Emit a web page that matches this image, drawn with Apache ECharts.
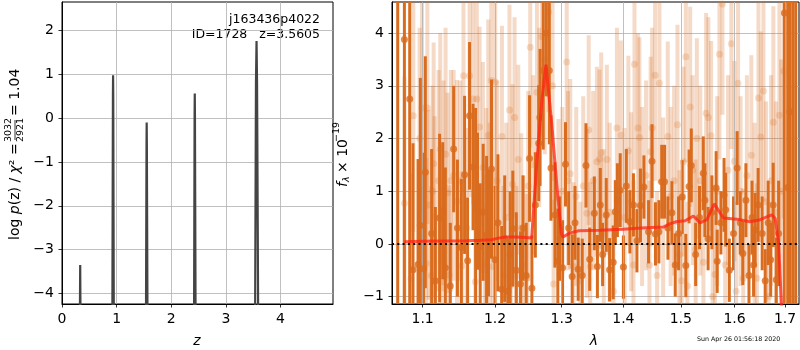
<!DOCTYPE html>
<html>
<head>
<meta charset="utf-8">
<title>p(z) and spectrum</title>
<script src="https://cdn.jsdelivr.net/npm/echarts@6.0.0/dist/echarts.min.js"></script>
<style>
  html, body { margin: 0; padding: 0; background: #fff; }
  #main { width: 800px; height: 350px; }
</style>
</head>
<body>
<div id="main"></div>
<script>
// left panel: log p(z)
var zGrid = [0.0, 0.325, 0.333, 0.341, 0.921, 0.932, 0.935, 0.938, 0.949,
             1.536, 1.547, 1.550, 1.553, 1.566, 2.416, 2.427, 2.430, 2.433, 2.446,
             3.533, 3.550, 3.5605, 3.570, 3.592, 4.96];
var logPz = [-5, -5, -3.35, -5, -5, 0.5, 0.98, 0.5, -5,
             -5, -0.6, -0.1, -0.6, -5, -5, 0.1, 0.56, 0.1, -5,
             -5, 0.8, 1.76, 0.8, -5, -5];

// right panel: spectrum, first orientation (dark)
var lamDark = [1.0676, 1.0762, 1.0831, 1.0874, 1.0940, 1.0970, 1.1013, 1.1036, 1.1120, 1.1170,
               1.1227, 1.1269, 1.1305, 1.1372, 1.1418, 1.1470, 1.1524, 1.1569, 1.1611, 1.1638,
               1.1687, 1.1723, 1.1750, 1.1788, 1.1830, 1.1879, 1.1907, 1.1949, 1.2000, 1.2042,
               1.2096, 1.2140, 1.2186, 1.2220, 1.2259, 1.2310, 1.2372, 1.2410, 1.2458, 1.2508,
               1.2543, 1.2595, 1.2646, 1.2667, 1.2715, 1.2762, 1.2808, 1.2834, 1.2895, 1.2940,
               1.2975, 1.3014, 1.3060, 1.3110, 1.3165, 1.3210, 1.3260, 1.3325, 1.3385, 1.3445,
               1.3520, 1.3570, 1.3617, 1.3655, 1.3715, 1.3770, 1.3830, 1.3865, 1.3900, 1.3947,
               1.4000, 1.4050, 1.4110, 1.4170, 1.4230, 1.4290, 1.4350, 1.4430, 1.4490, 1.4550,
               1.4610, 1.4660, 1.4710, 1.4770, 1.4840, 1.4900, 1.4960, 1.5025, 1.5090, 1.5150,
               1.5190, 1.5270, 1.5340, 1.5410, 1.5440, 1.5500, 1.5570, 1.5650, 1.5670, 1.5740,
               1.5800, 1.5830, 1.5900, 1.5980, 1.6050, 1.6110, 1.6160, 1.6220, 1.6280, 1.6340,
               1.6370, 1.6400, 1.6460, 1.6540, 1.6600, 1.6660, 1.6710, 1.6760, 1.6822, 1.6870,
               1.6988, 1.7055, 1.7100, 1.7160, 1.7220];
var fluxDark = [-1.5, 3.88, 2.75, -0.49, -0.39, 0.35, -0.47, 1.36, 0.20, -0.70,
                0.49, 0.63, -0.45, -0.80, 1.80, 0.30, -0.07, 1.31, -0.32, 2.43,
                1.46, 0.68, 0.81, -0.05, 0.60, 0.17, 0.21, 1.42, -0.30, 0.40,
                -0.86, 0.10, -0.90, -0.20, 0.29, -0.50, -0.76, 0.30, -0.60, 1.62,
                -0.84, 0.74, 1.91, 2.40, 3.29, 4.00, 3.29, 1.44, 0.55, -0.33,
                0.10, -0.45, 1.51, 0.30, -0.62, 0.40, -0.48, -0.60, 1.49, -0.29,
                0.58, -0.43, 0.74, -0.20, 0.55, -0.49, -0.35, 0.61, 0.83, 1.02,
                -0.44, 1.10, 0.42, 0.74, 0.06, 0.73, 1.08, 0.23, 1.57, 0.19,
                0.23, 1.18, 1.18, 0.30, 0.59, -0.40, 0.20, 0.89, -0.41, 1.09,
                1.49, -0.20, 0.50, 1.34, 0.83, 0.10, 0.60, 1.06, -0.33, 0.40,
                0.93, 0.65, -0.50, 0.20, 1.44, 0.40, -0.18, 0.83, -0.60, 0.50,
                -0.40, 0.27, 0.74, 0.20, -0.70, 0.40, -0.30, 0.74, -0.68, 0.20,
                4.38, 1.07, 2.51, -1.5, -1.5];
var errDark = [7, 6, 5, 2.4, 2.0, 2.8, 2.2, 2.2, 1.6, 1.4,
               1.6, 1.3, 1.9, 1.2, 1.2, 1.3, 1.3, 1.5, 1.2, 1.4,
               1.2, 1.9, 1.3, 1.2, 1.3, 1.5, 1.2, 1.7, 1.4, 1.3,
               1.2, 1.2, 1.0, 1.2, 1.1, 1.1, 1.0, 1.0, 1.0, 1.2,
               1.0, 1.0, 1.1, 1.3, 1.5, 1.2, 1.4, 1.0, 1.0, 1.0,
               0.8, 0.9, 0.8, 0.7, 0.8, 0.7, 0.6, 0.7, 0.8, 0.6,
               0.7, 0.6, 0.7, 0.6, 0.7, 0.6, 0.7, 0.6, 0.7, 0.7,
               0.6, 0.7, 0.6, 0.6, 0.6, 0.7, 0.6, 0.6, 0.7, 0.6,
               0.6, 0.7, 0.7, 0.6, 0.6, 0.6, 0.7, 0.7, 0.6, 0.7,
               0.7, 0.6, 0.6, 0.7, 0.7, 0.6, 0.7, 0.7, 0.6, 0.6,
               0.7, 0.7, 0.6, 0.7, 0.7, 0.6, 0.6, 0.7, 0.6, 0.7,
               0.6, 0.7, 0.7, 0.7, 0.6, 0.8, 0.7, 0.8, 0.8, 1.0,
               6, 6, 6, 7, 7];

// second orientation (light)
var lamLight = [1.0763, 1.0848, 1.0878, 1.0961, 1.0975, 1.0992, 1.1049, 1.1063, 1.1080, 1.1116,
                1.1133, 1.1147, 1.1160, 1.1213, 1.1236, 1.1256, 1.1280, 1.1308, 1.1335, 1.1357,
                1.1380, 1.1418, 1.1464, 1.1509, 1.1529, 1.1554, 1.1597, 1.1639, 1.1687, 1.1719,
                1.1740, 1.1779, 1.1826, 1.1853, 1.1874, 1.1903, 1.1924, 1.1946, 1.1970, 1.2003,
                1.2031, 1.2100, 1.2123, 1.2162, 1.2210, 1.2228, 1.2255, 1.2285, 1.2310, 1.2340,
                1.2384, 1.2418, 1.2468, 1.2488, 1.2518, 1.2562, 1.2620, 1.2654, 1.2695, 1.2739,
                1.2797, 1.2858, 1.2875, 1.2950, 1.3009, 1.3079, 1.3099, 1.3134, 1.3186, 1.3229,
                1.3293, 1.3341, 1.3400, 1.3429, 1.3453, 1.3501, 1.3562, 1.3604, 1.3632, 1.3673,
                1.3725, 1.3772, 1.3835, 1.3892, 1.3958, 1.4020, 1.4084, 1.4132, 1.4171, 1.4188,
                1.4247, 1.4273, 1.4318, 1.4387, 1.4445, 1.4466, 1.4492, 1.4544, 1.4579, 1.4620,
                1.4685, 1.4767, 1.4818, 1.4880, 1.4940, 1.4975, 1.5015, 1.5049, 1.5091, 1.5120,
                1.5169, 1.5215, 1.5270, 1.5292, 1.5355, 1.5413, 1.5463, 1.5505, 1.5555, 1.5585,
                1.5629, 1.5670, 1.5712, 1.5769, 1.5821, 1.5876, 1.5939, 1.5997, 1.6030, 1.6068,
                1.6116, 1.6168, 1.6239, 1.6326, 1.6390, 1.6436, 1.6466, 1.6512, 1.6565, 1.6618,
                1.6672, 1.6718, 1.6764, 1.6818, 1.6885, 1.6920, 1.6975];
var fluxLight = [0.77, -0.66, 2.43, 2.00, -0.72, 2.58, -0.37, 2.58, 0.74, -0.60,
                 1.00, 1.52, 0.52, 1.20, 1.80, -0.72, 1.10, 1.70, 0.97, -0.59,
                 1.20, 1.30, 0.81, 1.20, -0.42, 3.19, 0.30, 3.19, 2.75, -0.72,
                 2.75, 2.22, 1.45, -0.39, 0.68, 2.06, 0.50, 3.10, -0.43, 3.07,
                 1.20, 2.04, -0.60, 0.50, 2.54, -0.79, 1.13, 2.40, -0.60, 1.60,
                 0.30, -0.40, -0.65, 1.10, 3.73, 1.50, 2.88, 2.40, 3.93, 3.50,
                 4.40, 3.00, -0.76, 0.87, 1.00, 3.45, 1.20, 1.33, -0.43, 0.90,
                 -0.70, 1.10, 0.58, 2.16, -0.43, 1.20, 1.56, 1.61, 1.73, 0.20,
                 1.60, 0.60, -0.90, 2.20, 2.06, 0.50, 1.77, 0.80, -0.40, 3.41,
                 2.20, 2.02, 0.90, 1.30, -0.40, 1.75, 2.20, 3.20, -0.60, 3.05,
                 0.70, 2.04, 0.90, 1.20, 2.26, -0.20, -0.70, 1.56, 3.55, -0.80,
                 2.60, 1.40, -0.10, 2.00, 1.20, -0.35, 2.48, 2.40, 2.05, -1.00,
                 -0.58, 1.00, 3.60, 4.55, -0.40, 1.40, 3.80, 1.57, -0.90, 3.05,
                 1.00, -0.65, 1.30, 1.68, 0.50, -0.65, 2.77, 2.03, 2.90, 0.80,
                 -1.00, 1.20, 2.31, 0.60, 2.44, 1.00, 3.28];
var errLight = [2.4, 2.0, 2.2, 2.1, 1.8, 2.0, 2.0, 2.2, 1.8, 1.7,
                2.0, 2.3, 1.9, 2.1, 2.2, 1.8, 2.0, 2.4, 1.9, 1.7,
                2.1, 2.0, 2.3, 1.9, 1.8, 2.2, 1.9, 2.3, 2.0, 1.8,
                2.1, 1.9, 2.0, 1.7, 1.9, 2.2, 1.8, 2.1, 1.8, 2.0,
                1.9, 2.1, 1.7, 1.8, 2.0, 1.6, 1.9, 1.9, 1.7, 1.8,
                1.8, 1.7, 1.6, 1.8, 1.9, 1.7, 1.8, 1.7, 1.9, 1.8,
                1.9, 1.8, 1.6, 1.5, 1.6, 1.9, 1.7, 1.8, 1.6, 1.7,
                1.5, 1.7, 1.6, 1.8, 1.6, 1.7, 1.8, 1.7, 1.9, 1.6,
                1.8, 1.7, 1.5, 1.9, 1.8, 1.7, 1.8, 1.7, 1.6, 2.0,
                1.8, 1.9, 1.7, 1.8, 1.6, 1.8, 1.9, 2.0, 1.6, 1.9,
                1.7, 1.8, 1.7, 1.8, 1.9, 1.6, 1.6, 1.8, 2.0, 1.6,
                1.9, 1.8, 1.7, 1.9, 1.8, 1.7, 1.9, 1.9, 1.8, 1.6,
                1.7, 1.8, 2.0, 2.1, 1.7, 1.8, 2.0, 1.9, 1.7, 2.0,
                1.8, 1.7, 1.9, 1.9, 1.8, 1.8, 2.0, 2.0, 2.1, 1.9,
                1.8, 2.0, 2.2, 2.1, 2.4, 2.5, 2.8];

// best-fit model
var lamModel = [1.076, 1.100, 1.130, 1.160, 1.180, 1.195, 1.205, 1.215, 1.230, 1.245,
                1.254, 1.262, 1.2695, 1.2757, 1.2849, 1.2926, 1.2994, 1.302, 1.3134, 1.327,
                1.360, 1.400, 1.430, 1.469, 1.480, 1.4917, 1.5078, 1.5227, 1.535, 1.5477,
                1.5615, 1.579, 1.6044, 1.630, 1.650, 1.673, 1.680, 1.687, 1.690, 1.694];
var fluxModel = [0.04, 0.05, 0.055, 0.06, 0.07, 0.08, 0.11, 0.13, 0.13, 0.12,
                 0.11, 1.59, 2.73, 3.4, 2.23, 1.09, 0.2, 0.13, 0.21, 0.25,
                 0.26, 0.28, 0.30, 0.32, 0.38, 0.42, 0.44, 0.53, 0.40, 0.46,
                 0.76, 0.49, 0.47, 0.42, 0.46, 0.55, 0.49, 0.01, -0.62, -1.4];

var lamTicks = [1.1, 1.2, 1.3, 1.4, 1.5, 1.6, 1.7];
var zTicks = [0, 1, 2, 3, 4];
var pTicks = [-4, -3, -2, -1, 0, 1, 2];
var fTicks = [-1, 0, 1, 2, 3, 4];

var orange = '#d96c1e';
var fontFam = 'DejaVu Sans';

function minus(v) {
    return String(v).replace('-', '\u2212');
}

function zip3(a, b, c) {
    return a.map(function (v, i) { return [v, b[i], c[i]]; });
}

function errBars(width, color) {
    return function (params, api) {
        var lam = api.value(0), f = api.value(1), e = api.value(2);
        var top = api.coord([lam, f + e]);
        var bot = api.coord([lam, f - e]);
        var cs = params.coordSys;
        var r = echarts.graphic.clipRectByRect(
            {x: top[0] - width / 2, y: top[1], width: width, height: bot[1] - top[1]},
            {x: cs.x, y: cs.y, width: cs.width, height: cs.height});
        if (!r) return null;
        return {type: 'rect', shape: r, style: {fill: color}};
    };
}

var myChart = echarts.init(document.getElementById('main'));

var axisBase = {
    axisLine: {show: true, onZero: false, lineStyle: {color: '#000', width: 1}},
    axisTick: {show: true, length: 3.5, lineStyle: {color: '#000', width: 0.8}},
    axisLabel: {color: '#000', fontSize: 14, fontFamily: fontFam, margin: 8},
    splitLine: {show: true, lineStyle: {color: '#b0b0b0', width: 0.8}}
};

function ax(extra) {
    return echarts.util.merge(echarts.util.clone(axisBase), extra, true);
}

var option = {
    animation: false,
    backgroundColor: '#fff',
    grid: [
        {left: 62, top: 2, width: 271, height: 302, show: true, borderColor: '#000', borderWidth: 1},
        {left: 392, top: 2, width: 407, height: 302, show: true, borderColor: '#000', borderWidth: 1}
    ],
    xAxis: [
        ax({type: 'value', gridIndex: 0, min: 0, max: 4.96,
            axisTick: {customValues: zTicks},
            axisLabel: {customValues: zTicks, formatter: minus}}),
        ax({type: 'log', logBase: 10, gridIndex: 1, min: 1.0603, max: 1.7288,
            axisTick: {customValues: lamTicks},
            axisLabel: {customValues: lamTicks, formatter: function (v) { return v.toFixed(1); }},
            splitLine: {show: false}, minorTick: {show: false}, minorSplitLine: {show: false}})
    ],
    yAxis: [
        ax({type: 'value', gridIndex: 0, min: -4.24, max: 2.65,
            axisTick: {customValues: pTicks},
            axisLabel: {customValues: pTicks, formatter: minus}}),
        ax({type: 'value', gridIndex: 1, min: -1.14, max: 4.59,
            axisTick: {customValues: fTicks},
            axisLabel: {customValues: fTicks, formatter: minus}})
    ],
    series: [
        {
            type: 'line', xAxisIndex: 0, yAxisIndex: 0,
            data: zGrid.map(function (z, i) { return [z, logPz[i]]; }),
            showSymbol: false, clip: true,
            lineStyle: {color: '#444', width: 2.2}
        },
        {
            // vertical grid lines of the log axis
            type: 'line', xAxisIndex: 1, yAxisIndex: 1, data: [], z: 1,
            markLine: {
                silent: true, symbol: 'none', label: {show: false},
                lineStyle: {color: '#b0b0b0', width: 0.8, type: 'solid'},
                data: lamTicks.map(function (v) { return {xAxis: v}; })
            }
        },
        {
            type: 'custom', xAxisIndex: 1, yAxisIndex: 1, z: 2,
            renderItem: errBars(4, 'rgba(217,108,30,0.25)'),
            encode: {x: 0, y: 1},
            data: zip3(lamLight, fluxLight, errLight)
        },
        {
            type: 'scatter', xAxisIndex: 1, yAxisIndex: 1, z: 3,
            symbolSize: 7,
            itemStyle: {color: orange, opacity: 0.22},
            data: lamLight.map(function (l, i) { return [l, fluxLight[i]]; })
        },
        {
            type: 'custom', xAxisIndex: 1, yAxisIndex: 1, z: 4,
            renderItem: errBars(3, orange),
            encode: {x: 0, y: 1},
            data: zip3(lamDark, fluxDark, errDark)
        },
        {
            type: 'scatter', xAxisIndex: 1, yAxisIndex: 1, z: 5,
            symbolSize: 7,
            itemStyle: {color: orange},
            data: lamDark.map(function (l, i) { return [l, fluxDark[i]]; })
        },
        {
            type: 'line', xAxisIndex: 1, yAxisIndex: 1, z: 6,
            data: lamModel.map(function (l, i) { return [l, fluxModel[i]]; }),
            showSymbol: false, clip: true,
            lineStyle: {color: 'rgba(255,35,20,0.75)', width: 3},
            markLine: {
                silent: true, symbol: 'none', label: {show: false},
                lineStyle: {color: '#000', width: 2, type: [2, 3.3]},
                data: [{yAxis: 0}]
            }
        }
    ],
    graphic: [
        {type: 'text', x: 320, y: 20, style: {text: 'j163436p4022', fill: '#000', fontSize: 12.5, fontFamily: fontFam, align: 'right', verticalAlign: 'middle'}},
        {type: 'text', x: 320, y: 35, style: {text: 'ID=1728   z=3.5605', fill: '#000', fontSize: 12.5, fontFamily: fontFam, align: 'right', verticalAlign: 'middle'}},
        {type: 'text', x: 197, y: 341, style: {text: 'z', fill: '#000', fontSize: 14, fontStyle: 'italic', fontFamily: fontFam, align: 'center', verticalAlign: 'middle'}},
        {type: 'text', x: 594, y: 341, style: {text: '\u03bb', fill: '#000', fontSize: 14, fontStyle: 'italic', fontFamily: fontFam, align: 'center', verticalAlign: 'middle'}},
        {type: 'text', x: 697, y: 339, style: {text: 'Sun Apr 26 01:56:18 2020', fill: '#000', fontSize: 6.3, fontFamily: fontFam, align: 'left', verticalAlign: 'middle'}},
        {
            type: 'group', x: 15, y: 154, rotation: Math.PI / 2,
            children: [
                {type: 'text', x: -86, y: 0, style: {
                    text: '{n|log }{i|p}{n|(z) / }{i|\u03c7}{n|\u00b2 =}',
                    align: 'left', verticalAlign: 'middle', fill: '#000',
                    rich: {
                        n: {fontSize: 14, fontFamily: fontFam, fill: '#000'},
                        i: {fontSize: 14, fontFamily: fontFam, fontStyle: 'italic', fill: '#000'}
                    }}},
                {type: 'text', x: 24, y: -1, style: {text: '3032', fontSize: 9.5, fontFamily: fontFam, fill: '#000', align: 'center', verticalAlign: 'bottom'}},
                {type: 'line', shape: {x1: 14, y1: 0, x2: 34, y2: 0}, style: {stroke: '#000', lineWidth: 0.8}},
                {type: 'text', x: 24, y: 1, style: {text: '2921', fontSize: 9.5, fontFamily: fontFam, fill: '#000', align: 'center', verticalAlign: 'top'}},
                {type: 'text', x: 38, y: 0, style: {text: '= 1.04', fontSize: 14, fontFamily: fontFam, fill: '#000', align: 'left', verticalAlign: 'middle'}}
            ]
        },
        {
            type: 'group', x: 343, y: 154, rotation: Math.PI / 2,
            children: [
                {type: 'text', x: -33, y: 0, style: {text: 'f', fontSize: 14, fontStyle: 'italic', fontFamily: fontFam, fill: '#000', align: 'left', verticalAlign: 'middle'}},
                {type: 'text', x: -28, y: 4, style: {text: '\u03bb', fontSize: 9.5, fontStyle: 'italic', fontFamily: fontFam, fill: '#000', align: 'left', verticalAlign: 'middle'}},
                {type: 'text', x: -19, y: 0, style: {text: '\u00d7 10', fontSize: 14, fontFamily: fontFam, fill: '#000', align: 'left', verticalAlign: 'middle'}},
                {type: 'text', x: 12, y: -6, style: {text: '\u221219', fontSize: 9.5, fontFamily: fontFam, fill: '#000', align: 'left', verticalAlign: 'middle'}}
            ]
        }
    ]
};

myChart.setOption(option);
</script>
</body>
</html>
